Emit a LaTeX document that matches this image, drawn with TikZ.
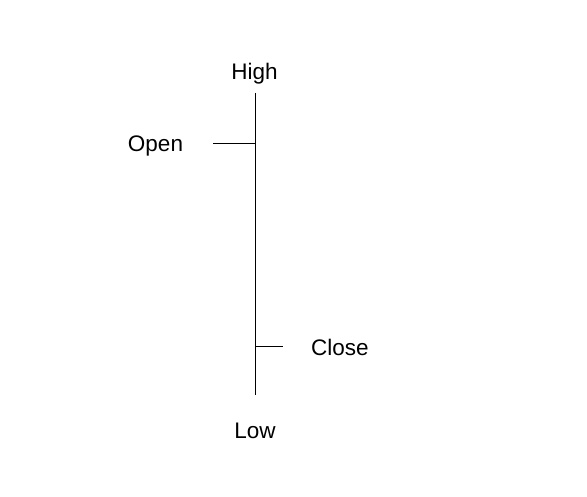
\documentclass[tikz,border=0pt]{standalone}
\usepackage{fontspec}
\setmainfont{Liberation Sans}
\begin{document}
\begin{tikzpicture}[x=1pt,y=-1pt,
  lbl/.style={font=\fontsize{22.5}{26}\selectfont, inner sep=0pt, anchor=base},
  ln/.style={line width=1pt, black}]
\useasboundingbox (0,0) rectangle (587,497);
\coordinate (top) at (255,93);
\coordinate (bot) at (255,395);
\coordinate (o1) at (213,144);
\coordinate (o2) at (255,144);
\coordinate (c1) at (255,347);
\coordinate (c2) at (283,347);
\draw[ln] (top) -- (bot);
\draw[ln] (o1) -- (o2);
\draw[ln] (c1) -- (c2);
\node[lbl] (high) at (254.5,79.5) {High};
\node[lbl] (open) at (155.5,151.8) {Open};
\node[lbl] (close) at (340,355.5) {Close};
\node[lbl] (low) at (255,438) {Low};
\end{tikzpicture}
\end{document}
